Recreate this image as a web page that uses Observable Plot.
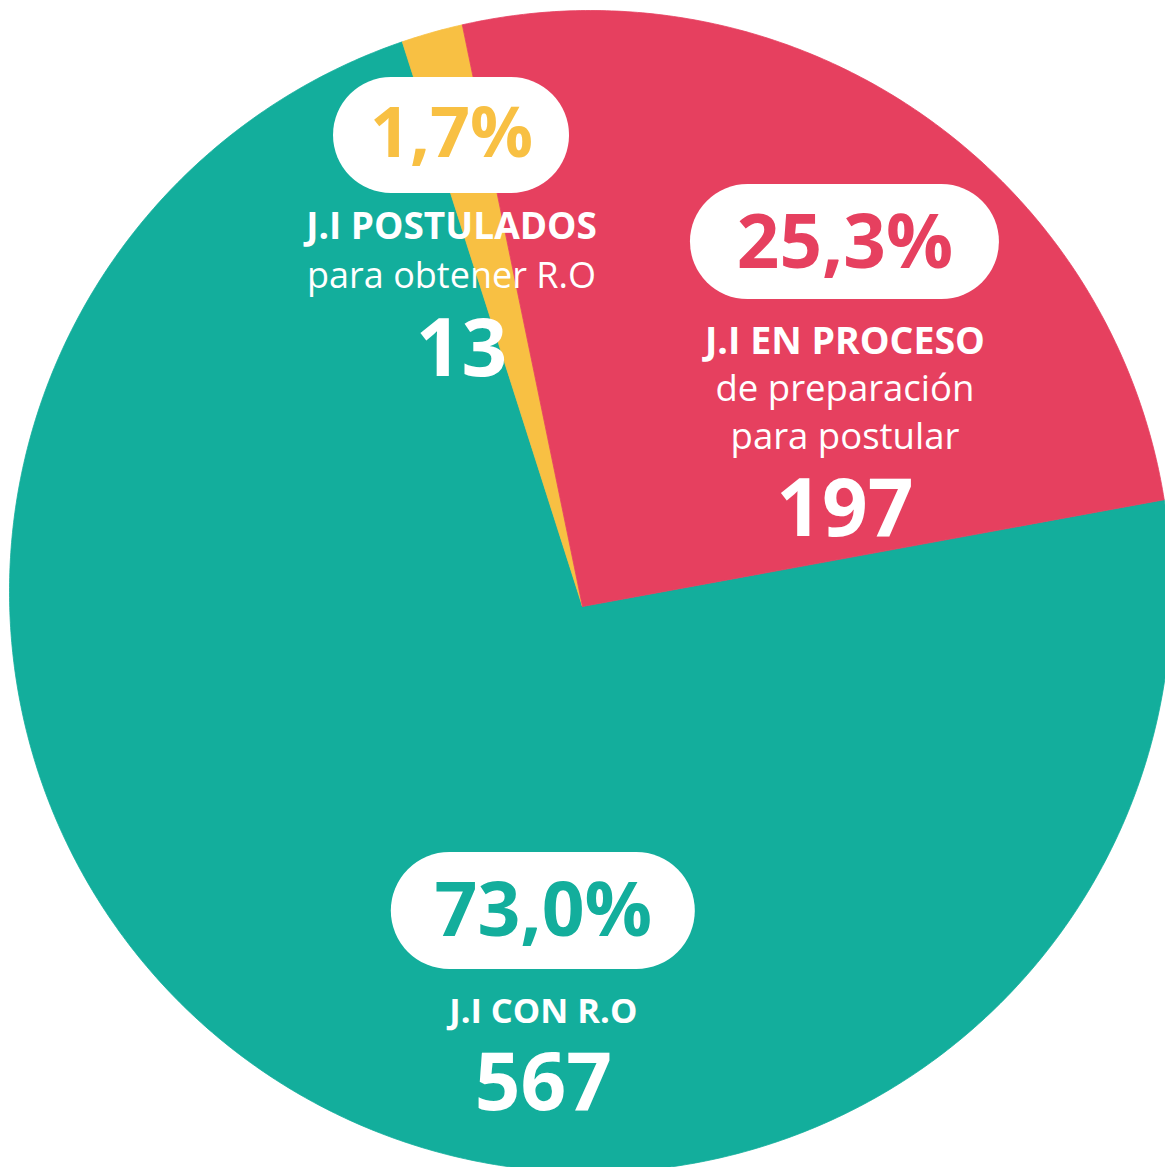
<!DOCTYPE html>
<html>
<head>
<meta charset="utf-8">
<script src="https://cdn.jsdelivr.net/npm/d3@7"></script>
<script src="https://cdn.jsdelivr.net/npm/@observablehq/plot@0.6"></script>
<style>
  html, body { margin: 0; padding: 0; background: #ffffff; overflow: hidden; }
  #chart svg { display: block; }
</style>
</head>
<body>
<div id="chart"></div>
<script>
// ---------- DATA ----------
const categories = ["J.I CON R.O", "J.I POSTULADOS", "J.I EN PROCESO"];
const subtitles  = [[], ["para obtener R.O"], ["de preparación", "para postular"]];
const counts     = [567, 13, 197];
const percents   = [73.0, 1.7, 25.3];
const colors     = ["#13AE9C", "#F8C043", "#E6405F"];

// ---------- LAYOUT ----------
const W = 1165, H = 1167;
const CX = 590, CY = 591, R = 581;          // outer circle (px)
const startDeg = 79.6;                       // where the first slice starts (clockwise from 12 o'clock)
const vertex = [(582 - CX) / R, (CY - 606) / R]; // slices meet slightly off-centre
const FONT = "Open Sans, Noto Sans, sans-serif";
const labelLayout = [
  {angle: 188.4, radius: 0.556, pillW: 304, pillH: 117, pctSize: 75, pctDy: 1,  titleSize: 34.5, titleDy: 101,  subSize: 36, subDy: [],             countDy: 173,   countDx: 0},
  {angle: -16.95, radius: 0.8205, pillW: 236, pillH: 116, pctSize: 70, pctDy: -1, titleSize: 37, titleDy: 92,  subSize: 36, subDy: [140.5],       countDy: 214.5, countDx: 10},
  {angle: 36.06, radius: 0.744, pillW: 309, pillH: 115, pctSize: 74.5, pctDy: 2.5,  titleSize: 37.5, titleDy: 99.7, subSize: 36.5, subDy: [147.6, 195.6], countDy: 268.5,   countDx: 0}
];

// ---------- BUILD ----------
const rows = categories.map((c, i) => ({category: c, count: counts[i], pct: percents[i], subs: subtitles[i]}));
const a0 = startDeg * Math.PI / 180;
const arcs = d3.pie().sort(null).value(d => d.count).startAngle(a0).endAngle(a0 + 2 * Math.PI)(rows);

function hit(t) {
  const dx = Math.sin(t), dy = Math.cos(t);
  const b = vertex[0] * dx + vertex[1] * dy;
  const c = vertex[0] ** 2 + vertex[1] ** 2 - 1;
  const s = -b + Math.sqrt(b * b - c);
  return [vertex[0] + s * dx, vertex[1] + s * dy];
}

const polys = arcs.flatMap(a => {
  const cat = a.data.category;
  const n = Math.max(4, Math.ceil((a.endAngle - a.startAngle) / (Math.PI / 360)));
  const pts = [{category: cat, x: vertex[0], y: vertex[1]}];
  for (let k = 0; k <= n; k++) {
    const t = a.startAngle + (a.endAngle - a.startAngle) * k / n;
    const [x, y] = hit(t);
    pts.push({category: cat, x, y});
  }
  pts.push({category: cat, x: vertex[0], y: vertex[1]});
  return pts;
});

const labels = rows.map((r, i) => {
  const L = labelLayout[i];
  const t = L.angle * Math.PI / 180;
  const ax = L.radius * Math.sin(t), ay = L.radius * Math.cos(t);
  return {...r, L, ax, ay,
    x1: ax - L.pillW / 2 / R, x2: ax + L.pillW / 2 / R,
    y1: ay - L.pillH / 2 / R, y2: ay + L.pillH / 2 / R,
    pctText: r.pct.toFixed(1).replace(".", ",") + "%"};
});

const labelMarks = labels.flatMap(d => {
  const L = d.L;
  const m = [
    Plot.rect([d], {x1: "x1", x2: "x2", y1: "y1", y2: "y2", fill: "white", rx: L.pillH / 2, ry: L.pillH / 2}),
    Plot.text([d], {x: "ax", y: "ay", text: "pctText", fill: "category", fontSize: L.pctSize, fontWeight: 700, fontFamily: FONT, dy: L.pctDy}),
    Plot.text([d], {x: "ax", y: "ay", text: "category", fill: "white", fontSize: L.titleSize, fontWeight: 700, fontFamily: FONT, dy: L.titleDy}),
    Plot.text([d], {x: "ax", y: "ay", text: dd => String(dd.count), fill: "white", fontSize: 80, fontWeight: 700, fontFamily: FONT, dy: L.countDy, dx: L.countDx})
  ];
  d.subs.forEach((s, j) => {
    m.push(Plot.text([d], {x: "ax", y: "ay", text: () => s, fill: "white", fontSize: L.subSize, fontWeight: 400, fontFamily: FONT, dy: L.subDy[j]}));
  });
  return m;
});

const chart = Plot.plot({
  width: W,
  height: H,
  margin: 0,
  style: {background: "transparent"},
  x: {domain: [-1, 1], range: [CX - R, CX + R], axis: null},
  y: {domain: [-1, 1], range: [CY + R, CY - R], axis: null},
  color: {domain: categories, range: colors},
  marks: [
    Plot.line(polys, {x: "x", y: "y", z: "category", fill: "category", stroke: "category", strokeWidth: 0.8, curve: "linear"}),
    ...labelMarks
  ]
});
document.getElementById("chart").appendChild(chart);
</script>
</body>
</html>
